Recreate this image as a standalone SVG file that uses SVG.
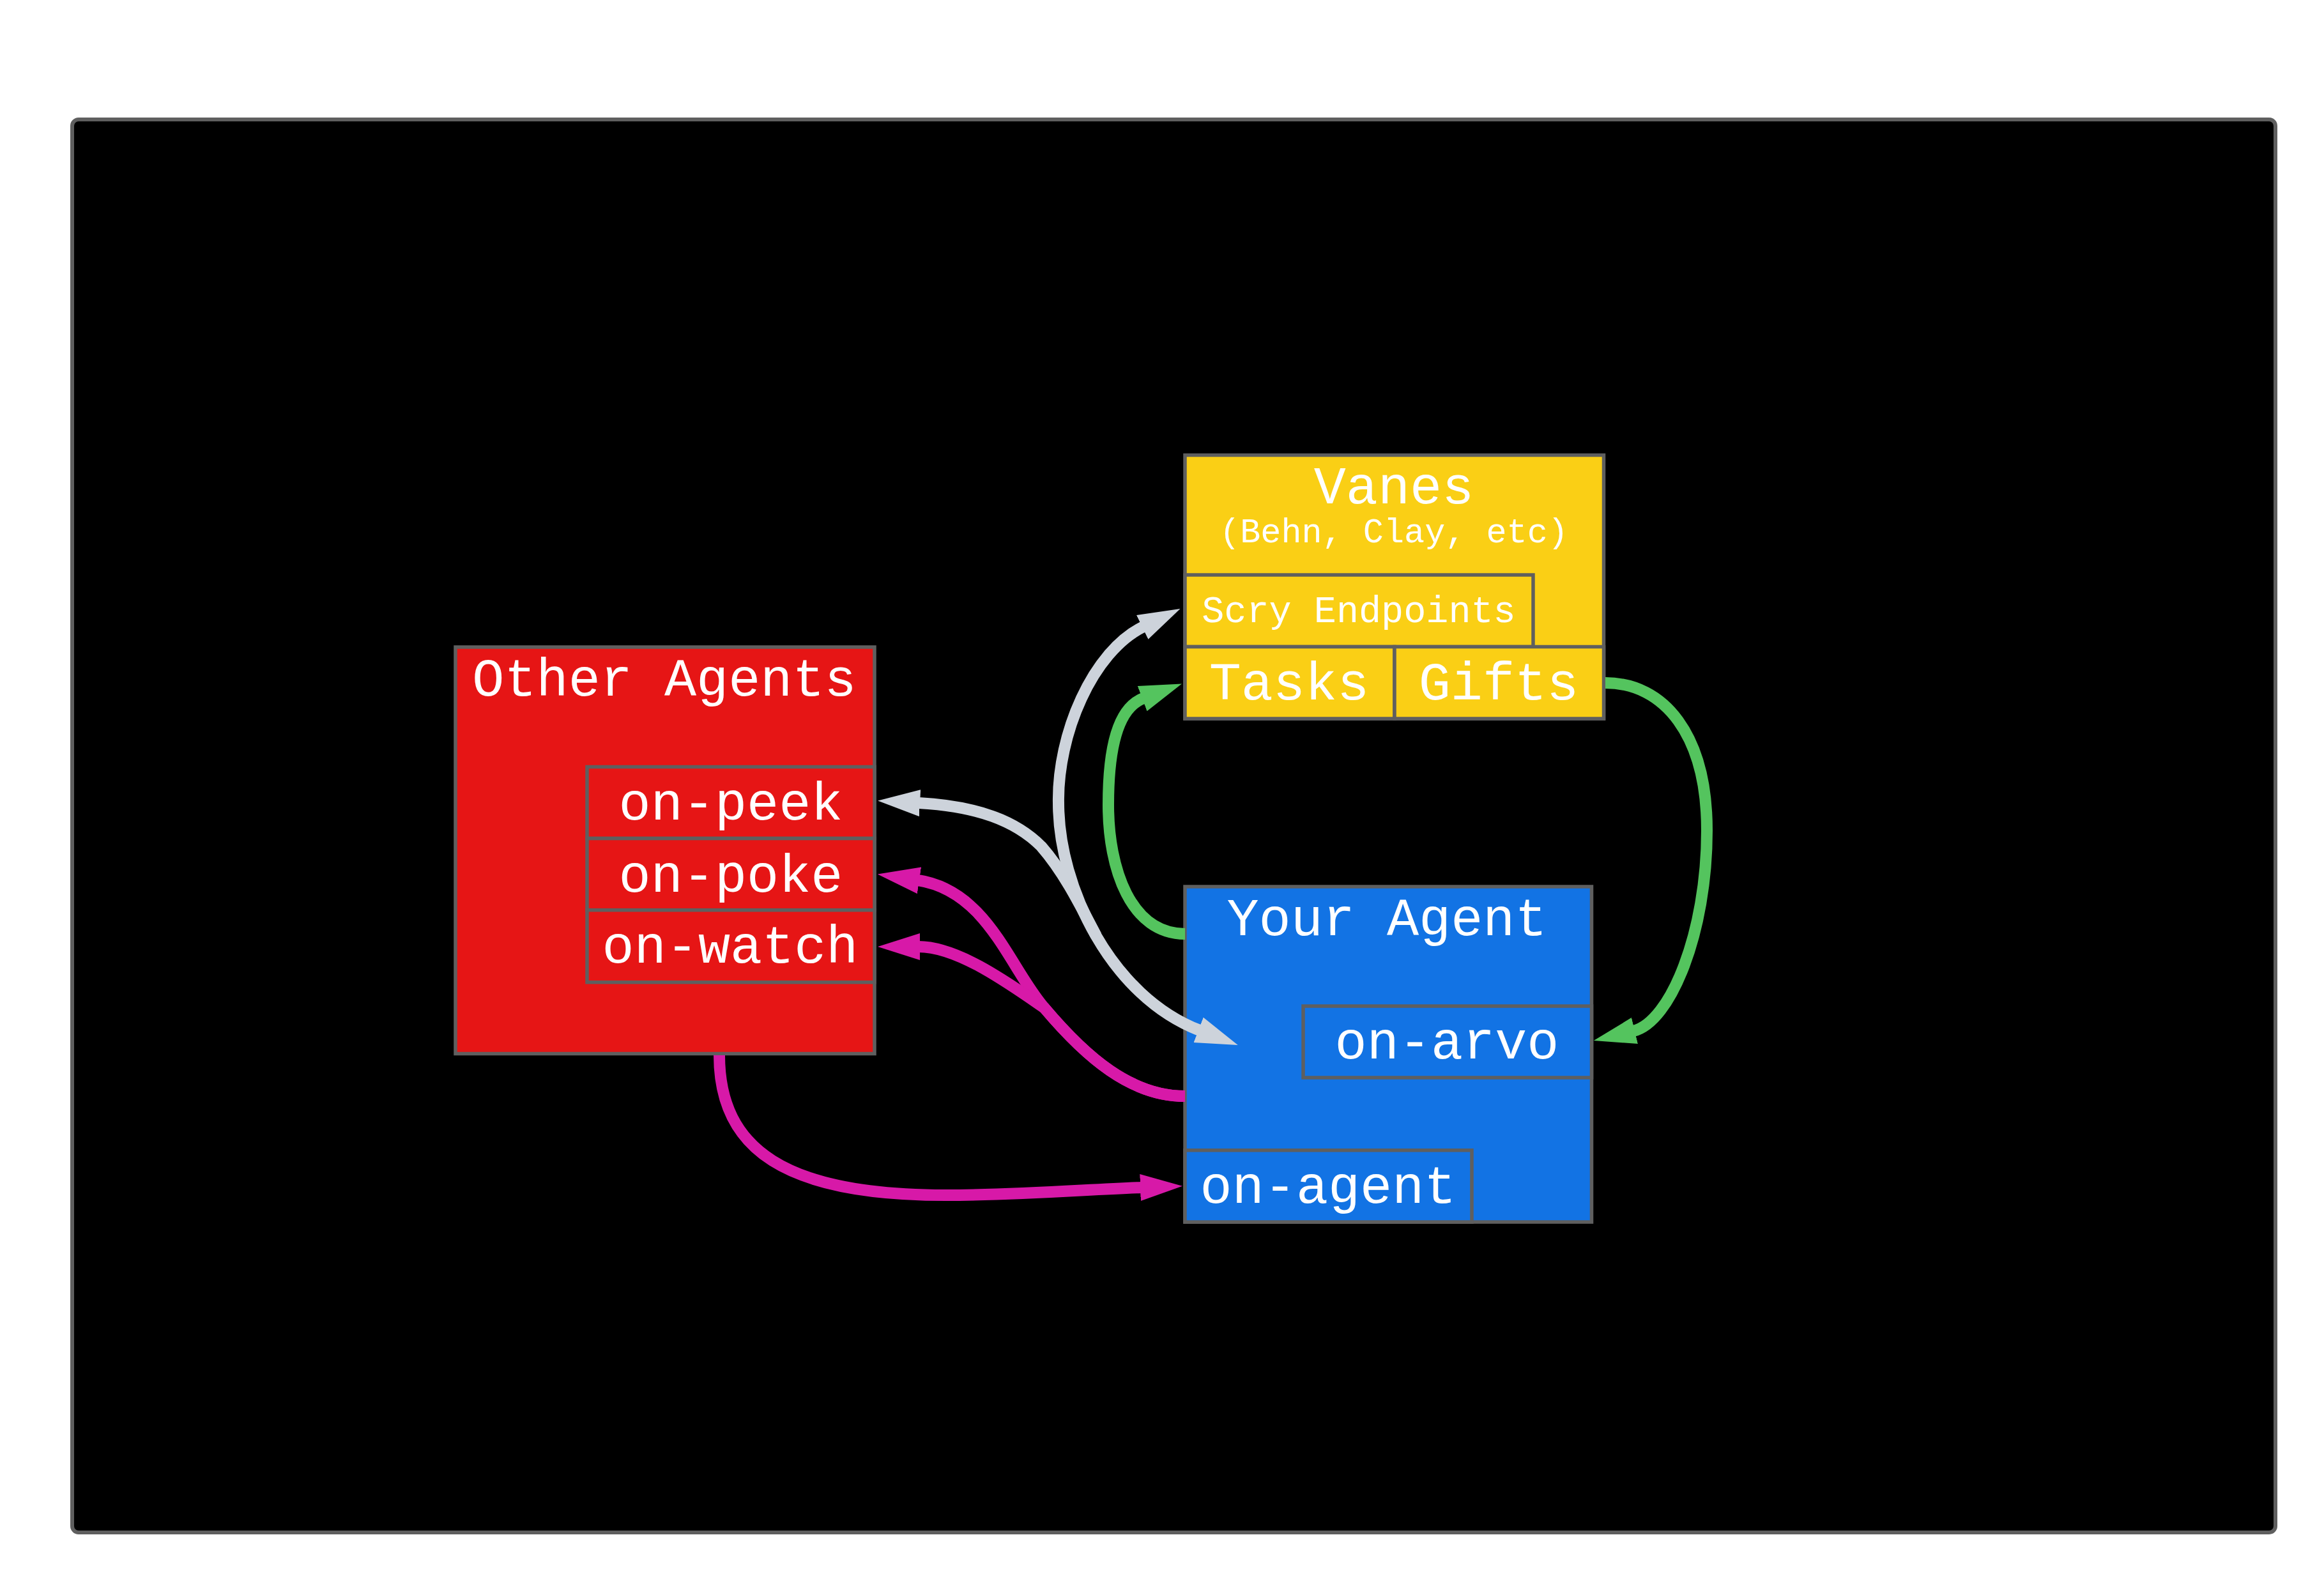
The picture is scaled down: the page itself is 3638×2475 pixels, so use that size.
<svg xmlns="http://www.w3.org/2000/svg" width="3638" height="2475" viewBox="0 0 3638 2475">
<style>
.box{stroke:#5f5f5f;stroke-width:5.5}
.y{fill:#facf15}.r{fill:#e61515}.b{fill:#1273e4}
.t{fill:#ffffff;font-family:"Liberation Mono","DejaVu Sans Mono",monospace;text-anchor:middle}
.big{font-size:83.5px}
.c{fill:none;stroke-width:18}
.grey{stroke:#cdd3db}.green{stroke:#54c45e}.mag{stroke:#d719a8}
</style>
<defs>
<marker id="ah-grey" markerUnits="userSpaceOnUse" markerWidth="70" markerHeight="44" refX="2" refY="21" orient="auto-start-reverse"><path d="M0,0 L66,21 L0,42 z" fill="#cdd3db"/></marker>
<marker id="ah-green" markerUnits="userSpaceOnUse" markerWidth="70" markerHeight="44" refX="2" refY="21" orient="auto-start-reverse"><path d="M0,0 L66,21 L0,42 z" fill="#54c45e"/></marker>
<marker id="ah-mag" markerUnits="userSpaceOnUse" markerWidth="70" markerHeight="44" refX="2" refY="21" orient="auto-start-reverse"><path d="M0,0 L66,21 L0,42 z" fill="#d719a8"/></marker>
</defs>
<rect x="0" y="0" width="3638" height="2475" fill="#ffffff"/>
<rect x="113" y="187" width="3449" height="2212" rx="10" fill="#000000" stroke="#5f5f5f" stroke-width="6"/>

<g id="vanes">
<rect class="box y" x="1855" y="712.5" width="655.5" height="412.5"/>
<text class="t big" x="2182" y="788">Vanes</text>
<text class="t" x="2182" y="849" font-size="53.5">(Behn, Clay, etc)</text>
</g>
<g id="scry-endpoints">
<rect class="box y" x="1855" y="900" width="545" height="112.5"/>
<text class="t" x="2127" y="974" font-size="58.5">Scry Endpoints</text>
</g>
<g id="tasks">
<rect class="box y" x="1855" y="1012.5" width="328" height="112.5"/>
<text class="t big" x="2018" y="1095">Tasks</text>
</g>
<g id="gifts">
<rect class="box y" x="2183" y="1012.5" width="327.5" height="112.5"/>
<text class="t big" x="2346" y="1095">Gifts</text>
</g>

<g id="other-agents">
<rect class="box r" x="713" y="1013" width="656" height="636.5"/>
<text class="t big" x="1040" y="1089">Other Agents</text>
</g>
<g id="on-peek">
<rect class="box r" x="919" y="1200.5" width="450" height="112"/>
<text class="t big" x="1144" y="1283">on-peek</text>
</g>
<g id="on-poke">
<rect class="box r" x="919" y="1312.5" width="450" height="112.2"/>
<text class="t big" x="1144" y="1395.5">on-poke</text>
</g>
<g id="on-watch">
<rect class="box r" x="919" y="1424.7" width="450" height="113"/>
<text class="t big" x="1143" y="1507">on-watch</text>
</g>

<g id="your-agent">
<rect class="box b" x="1855" y="1388" width="636.5" height="525"/>
<text class="t big" x="2171" y="1464">Your Agent</text>
</g>
<g id="on-arvo">
<rect class="box b" x="2040" y="1575" width="451.5" height="112"/>
<text class="t big" x="2265" y="1657">on-arvo</text>
</g>
<g id="on-agent">
<rect class="box b" x="1855" y="1800.7" width="449" height="112.3"/>
<text class="t big" x="2079" y="1883">on-agent</text>
</g>

<g id="connectors">
<path class="c grey" d="M1790,981 C1710,1020 1655,1150 1657,1257 C1657,1390 1740,1560 1878,1613" marker-start="url(#ah-grey)" marker-end="url(#ah-grey)"/>
<path class="c grey" d="M1716,1465 C1690,1415 1665,1365 1630,1325 C1590,1285 1530,1262 1438,1257" marker-end="url(#ah-grey)"/>
<path class="c green" d="M1855,1462 C1770,1462 1735,1360 1735,1260 C1735,1170 1750,1108 1790,1093" marker-end="url(#ah-green)"/>
<path class="c green" d="M2513,1069 C2605,1069 2672,1150 2672,1300 C2672,1460 2615,1600 2557,1614" marker-end="url(#ah-green)"/>
<path class="c mag" d="M1855,1716 C1770,1716 1700,1655 1635,1578 C1580,1515 1546,1394.5 1437,1378" marker-end="url(#ah-mag)"/>
<path class="c mag" d="M1855,1716 C1770,1716 1700,1655 1635,1578 C1580,1540 1500,1482 1438,1482" marker-end="url(#ah-mag)"/>
<path class="c mag" d="M1126,1652 C1126,1800 1230,1871 1480,1871 C1600,1871 1700,1862 1787,1859" marker-end="url(#ah-mag)"/>
</g>
</svg>
